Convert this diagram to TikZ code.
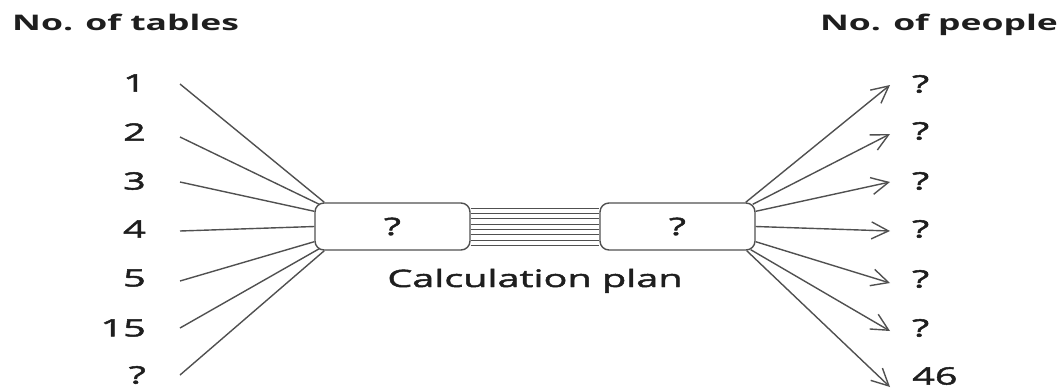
\documentclass[tikz,border=0pt]{standalone}
\usepackage{fontspec}
\setmainfont{Open Sans}
\newfontfamily\wide[FakeStretch=1.65, FakeBold=2]{Open Sans}
\newfontfamily\wideb[FakeStretch=1.65]{Open Sans Bold}
\usetikzlibrary{arrows.meta}
\definecolor{ln}{HTML}{505050}
\definecolor{tx}{HTML}{1E1E1E}
\tikzset{
  lbl/.style={font=\wide\fontsize{24}{28}\selectfont, text=tx, inner sep=0pt},
  ttl/.style={font=\wideb\fontsize{21.5}{26}\selectfont, text=tx, inner sep=0pt, anchor=base west},
  box/.style={draw=ln, line width=1.4pt, rounded corners=9pt, minimum width=155pt, minimum height=47pt, inner sep=0pt, font=\wide\fontsize{24}{28}\selectfont, text=tx},
  conn/.style={draw=ln, line width=1.4pt},
  arr/.style={conn, -{Straight Barb[length=17pt, width=17pt, line width=1.4pt]}}
}
\begin{document}
\begin{tikzpicture}[x=1pt, y=-1pt]
\useasboundingbox (0,0) rectangle (1064,389);
% titles
\node[ttl] (t1) at (12,30) {No. of tables};
\node[ttl, anchor=base east] (t2) at (1058,30) {No. of people};
% boxes
\node[box] (L) at (392.5,226.5) {?};
\node[box] (R) at (677.5,226.5) {?};
\node[lbl, anchor=base] (cp) at (535,287) {Calculation plan};
% connecting lines
\foreach \k in {0,...,7}{
  \draw[conn, line width=1.1pt] ([yshift=-6pt-\k*5.3pt]L.north east) -- ([yshift=-6pt-\k*5.3pt]R.north west);
}
% left labels
\node[lbl, anchor=east] (l1) at (146,83) {1};
\node[lbl, anchor=east] (l2) at (146,132) {2};
\node[lbl, anchor=east] (l3) at (146,181) {3};
\node[lbl, anchor=east] (l4) at (146,229) {4};
\node[lbl, anchor=east] (l5) at (146,278) {5};
\node[lbl, anchor=east] (l6) at (146,328) {15};
\node[lbl, anchor=east] (l7) at (146,375) {?};
\draw[conn] ([xshift=34pt,yshift=-1pt]l1.east) -- ([xshift=10pt]L.north west);
\draw[conn] ([xshift=34pt,yshift=-5pt]l2.east) -- ([xshift=5pt,yshift=-2pt]L.north west);
\draw[conn] ([xshift=34pt,yshift=-1pt]l3.east) -- ([yshift=-9pt]L.north west);
\draw[conn] ([xshift=34pt,yshift=-2pt]l4.east) -- (L.west);
\draw[conn] ([xshift=34pt,yshift=-3pt]l5.east) -- ([yshift=9pt]L.south west);
\draw[conn] ([xshift=34pt]l6.east) -- ([xshift=5pt,yshift=2pt]L.south west);
\draw[conn] ([xshift=34pt]l7.east) -- ([xshift=10pt]L.south west);
% right labels
\node[lbl, anchor=west] (r1) at (912,84) {?};
\node[lbl, anchor=west] (r2) at (912,131) {?};
\node[lbl, anchor=west] (r3) at (912,181) {?};
\node[lbl, anchor=west] (r4) at (912,229) {?};
\node[lbl, anchor=west] (r5) at (912,279) {?};
\node[lbl, anchor=west] (r6) at (912,328) {?};
\node[lbl, anchor=west] (r7) at (912,376) {46};
\draw[arr] ([xshift=-10pt]R.north east) -- ([xshift=-22pt,yshift=-1pt]r1.west);
\draw[arr] ([xshift=-3pt,yshift=-2pt]R.north east) -- ([xshift=-22pt,yshift=-3pt]r2.west);
\draw[arr] ([yshift=-9pt]R.north east) -- ([xshift=-22pt,yshift=-1pt]r3.west);
\draw[arr] (R.east) -- ([xshift=-22pt,yshift=-2pt]r4.west);
\draw[arr] ([yshift=9pt]R.south east) -- ([xshift=-22pt,yshift=-4pt]r5.west);
\draw[arr] ([xshift=-5pt,yshift=1pt]R.south east) -- ([xshift=-22pt,yshift=-3pt]r6.west);
\draw[arr] ([xshift=-9pt]R.south east) -- ([xshift=-22pt,yshift=-11pt]r7.west);
\end{tikzpicture}
\end{document}
